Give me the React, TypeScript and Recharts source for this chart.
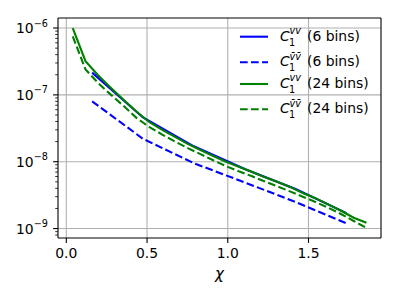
import { LineChart, Line, XAxis, YAxis, CartesianGrid } from 'recharts';

// bin centres for the two binnings
const chi24 = [0.04, 0.119, 0.198, 0.277, 0.356, 0.436, 0.515, 0.594, 0.673, 0.752, 0.831, 0.91,
    0.989, 1.068, 1.147, 1.226, 1.305, 1.385, 1.464, 1.543, 1.622, 1.701, 1.78, 1.859];
const c1vv24 = [1.0e-6, 3.2e-7, 1.95e-7, 1.27e-7, 8.4e-8, 5.6e-8, 3.9e-8, 3.0e-8, 2.35e-8, 1.85e-8,
    1.5e-8, 1.22e-8, 1.0e-8, 8.4e-9, 7.1e-9, 5.9e-9, 5.0e-9, 4.2e-9, 3.4e-9, 2.85e-9, 2.3e-9, 1.85e-9,
    1.45e-9, 1.22e-9];
const c1bb24 = [7.5e-7, 2.4e-7, 1.5e-7, 1.0e-7, 6.8e-8, 4.5e-8, 3.3e-8, 2.55e-8, 2.0e-8, 1.6e-8,
    1.3e-8, 1.05e-8, 8.6e-9, 7.2e-9, 6.1e-9, 5.1e-9, 4.3e-9, 3.6e-9, 3.0e-9, 2.5e-9, 2.05e-9, 1.65e-9,
    1.3e-9, 1.02e-9];
const chi6 = [0.16, 0.475, 0.79, 1.105, 1.42, 1.735];
const c1vv6 = [2.15e-7, 4.6e-8, 1.7e-8, 7.8e-9, 3.9e-9, 1.7e-9];
const c1bb6 = [8.0e-8, 2.2e-8, 9.5e-9, 4.9e-9, 2.5e-9, 1.2e-9];

const xTicks = [0, 0.5, 1, 1.5];
const yMajor = [1e-9, 1e-8, 1e-7, 1e-6];
const yMinor = [8e-10, 9e-10,
    2e-9, 3e-9, 4e-9, 5e-9, 6e-9, 7e-9, 8e-9, 9e-9,
    2e-8, 3e-8, 4e-8, 5e-8, 6e-8, 7e-8, 8e-8, 9e-8,
    2e-7, 3e-7, 4e-7, 5e-7, 6e-7, 7e-7, 8e-7, 9e-7];

const legendItems = [
    { color: '#0000ff', dashed: false, bar: false, bins: '(6 bins)' },
    { color: '#0000ff', dashed: true, bar: true, bins: '(6 bins)' },
    { color: '#008000', dashed: false, bar: false, bins: '(24 bins)' },
    { color: '#008000', dashed: true, bar: true, bins: '(24 bins)' },
];

const FONT = 'DejaVu Sans';
const DASH = '7.7 3.3';

const toRows = (xs: number[], ys: number[]) => xs.map((x, i) => ({ x, y: ys[i] }));

function YTick({ x, y, payload }: any) {
    const lg = Math.log10(payload.value);
    const exp = Math.round(lg);
    const major = Math.abs(lg - exp) < 1e-6;
    return (
        <g>
            <line x1={x - (major ? 4.9 : 2.8)} x2={x} y1={y} y2={y} stroke="#000" strokeWidth={major ? 1.1 : 0.8} />
            {major && (
                <text x={x - 10} y={y + 5} textAnchor="end" fontFamily={FONT} fontSize={13.9} fill="#000">
                    <tspan>10</tspan>
                    <tspan dy={-6.5} fontSize={9.7}>{'\u2212' + -exp}</tspan>
                </text>
            )}
        </g>
    );
}

function XTick({ x, y, payload }: any) {
    return (
        <g>
            <line x1={x} x2={x} y1={y} y2={y + 4.9} stroke="#000" strokeWidth={1.1} />
            <text x={x} y={y + 20} textAnchor="middle" fontFamily={FONT} fontSize={13.9} fill="#000">
                {payload.value.toFixed(1)}
            </text>
        </g>
    );
}

function LegendBox() {
    const rowY = [36.7, 62.3, 84, 109.3];
    return (
        <svg width={400} height={300} style={{ position: 'absolute', left: 0, top: 0, pointerEvents: 'none' }}>
            {legendItems.map((it, i) => {
                const y = rowY[i];
                return (
                    <g key={i}>
                        <line x1={240} x2={268} y1={y} y2={y} stroke={it.color} strokeWidth={2.1}
                            strokeDasharray={it.dashed ? DASH : undefined} />
                        <text x={280} y={y + 4} fontFamily={FONT} fontSize={13.9} fontStyle="italic" fill="#000">C</text>
                        <text x={289.5} y={y - 2.6} fontFamily={FONT} fontSize={9.7} fontStyle="italic" fill="#000">
                            {it.bar ? 'v\u0304v\u0304' : 'vv'}
                        </text>
                        <text x={289} y={y + 8.8} fontFamily={FONT} fontSize={9.7} fill="#000">1</text>
                        <text x={307} y={y + 4} fontFamily={FONT} fontSize={13.9} fill="#000">{it.bins}</text>
                    </g>
                );
            })}
        </svg>
    );
}

export default function App() {
    const xDomain = [-0.0514, 1.949];
    const yDomain = [Math.pow(10, -9.141), Math.pow(10, -5.85)];
    return (
        <div style={{ position: 'absolute', left: 0, top: 0, width: 400, height: 300, background: '#fff' }}>
            <LineChart width={400} height={300} margin={{ top: 17, right: 18, left: 0, bottom: 0 }}>
                <CartesianGrid xAxisId="b" yAxisId="l" stroke="#b0b0b0" strokeWidth={1.1}
                    horizontalValues={yMajor} verticalValues={xTicks} />
                <XAxis xAxisId="b" type="number" dataKey="x" domain={xDomain} ticks={xTicks} interval={0}
                    allowDataOverflow height={62} tickSize={0} tickMargin={0} tick={<XTick />}
                    axisLine={{ stroke: '#000', strokeWidth: 1.1 }}
                    label={({ viewBox }: any) => (
                        <text x={viewBox.x + viewBox.width / 2} y={viewBox.y + 41} textAnchor="middle"
                            fontFamily={FONT} fontSize={15} fontStyle="italic" fill="#000">χ</text>
                    )} />
                <XAxis xAxisId="t" orientation="top" type="number" domain={xDomain} ticks={xTicks} height={1}
                    tick={false} tickLine={false} axisLine={{ stroke: '#000', strokeWidth: 1.1 }} />
                <YAxis yAxisId="l" scale="log" type="number" domain={yDomain} allowDataOverflow
                    ticks={[...yMinor, ...yMajor]} interval={0} width={58} tickSize={0} tickMargin={0}
                    tick={<YTick />} axisLine={{ stroke: '#000', strokeWidth: 1.1 }} />
                <YAxis yAxisId="r" orientation="right" scale="log" type="number" domain={yDomain} ticks={yMajor}
                    width={1} tick={false} tickLine={false} axisLine={{ stroke: '#000', strokeWidth: 1.1 }} />
                <Line xAxisId="b" yAxisId="l" data={toRows(chi6, c1vv6)} dataKey="y" stroke="#0000ff"
                    strokeWidth={2.1} dot={false} isAnimationActive={false} />
                <Line xAxisId="b" yAxisId="l" data={toRows(chi6, c1bb6)} dataKey="y" stroke="#0000ff"
                    strokeWidth={2.1} strokeDasharray={DASH} dot={false} isAnimationActive={false} />
                <Line xAxisId="b" yAxisId="l" data={toRows(chi24, c1vv24)} dataKey="y" stroke="#008000"
                    strokeWidth={2.1} dot={false} isAnimationActive={false} />
                <Line xAxisId="b" yAxisId="l" data={toRows(chi24, c1bb24)} dataKey="y" stroke="#008000"
                    strokeWidth={2.1} strokeDasharray={DASH} dot={false} isAnimationActive={false} />
            </LineChart>
            <LegendBox />
        </div>
    );
}
